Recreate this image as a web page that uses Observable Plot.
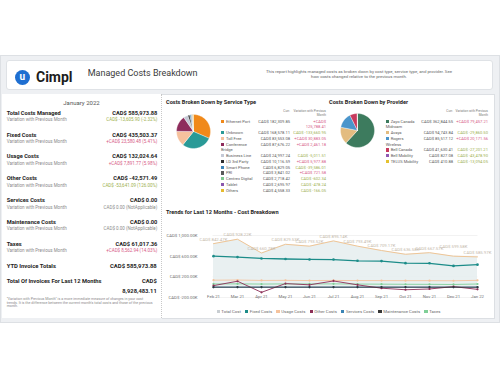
<!DOCTYPE html>
<html>
<head>
<meta charset="utf-8">
<script src="https://cdn.jsdelivr.net/npm/d3@7"></script>
<script src="https://cdn.jsdelivr.net/npm/@observablehq/plot@0.6"></script>
<style>
html,body{margin:0;padding:0}
body{width:500px;height:375px;position:relative;overflow:hidden;background:#fff;font-family:Roboto,"Noto Sans",sans-serif;color:#252423}
.a{position:absolute;white-space:nowrap}
.b{font-weight:700}
.tbl{position:absolute;display:grid;font-size:4.1px;line-height:5.75px;color:#5a5a5a;align-items:start}
.tbl div{white-space:nowrap}
.tbl .r{text-align:right}
.sw{display:inline-block;width:3.4px;height:3.4px;margin-right:1.6px;vertical-align:-0.3px}
.leg{position:absolute;display:flex;justify-content:center;gap:4.2px;font-size:4.3px;line-height:5px;color:#6a6a6a;white-space:nowrap}
.leg span.s{display:inline-block;width:3.2px;height:3.2px;margin-right:1.6px;vertical-align:-0.2px}
</style>
</head>
<body>
<script>
// ---------------- data ----------------
const reportTitle = "Managed Costs Breakdown";
const reportDescription = ["This report highlights managed costs as broken down by cost type, service type, and provider. See", "how costs changed relative to the previous month."];
const reportMonth = "January 2022";

const kpiLabels = ["Total Costs Managed", "Fixed Costs", "Usage Costs", "Other Costs", "Services Costs", "Maintenance Costs", "Taxes"];
const kpiValues = [585973.88, 435503.37, 132024.64, -42571.49, 0, 0, 61017.36];
const kpiChanges = [-13605.90, 23580.48, 7891.77, -53641.09, 0, 0, 8562.94];
const kpiChangePct = ["-2.32%", "5.41%", "5.98%", "126.00%", "NotApplicable", "NotApplicable", "14.03%"];
const ytdInvoiceTotal = 585973.88;
const last12Total = 8928483.11;
const footnote = "\"Variation with Previous Month\" is a more immediate measure of changes in your cost trends. It is the difference between the current month's total costs and those of the previous month.";

const serviceNames = ["Ethernet Port", "Unknown", "Toll Free", "Conference Bridge", "Business Line", "LD 3rd Party", "Smart Phone", "PRI", "Centrex Digital", "Tablet", "Others"];
const serviceCosts = [182309.85, 168578.11, 83553.08, 87676.22, 24997.24, 10116.59, 6829.05, 3841.02, 2718.42, 2695.97, 4558.33];
const serviceChanges = [125788.41, -133660.95, 30883.05, 2461.18, -5011.51, 5977.88, -39586.01, 721.58, -602.34, -478.24, -166.05];
const serviceColors = ["#f0891a", "#2a9a97", "#f6c19d", "#8e2c5c", "#c4c9d6", "#2e2e2e", "#3f86b8", "#5a5a5a", "#7fc990", "#8a57ae", "#e6bb2e"];

const providerNames = ["Zayo Canada Midroam", "Avaya", "Rogers Wireless", "Bell Canada", "Bell Mobility", "TELUS Mobility"];
const providerCosts = [362844.55, 94743.84, 85517.12, 41630.41, 827.08, 410.88];
const providerChanges = [79457.21, -29860.50, 20171.56, -27201.21, -43478.90, -13094.05];
const providerColors = ["#3d7b5e", "#e3bc80", "#4a95cb", "#c73a5d", "#8e58b3", "#e4c12f"];

const months = ["Feb 21", "Mar 21", "Apr 21", "May 21", "Jun 21", "Jul 21", "Aug 21", "Sep 21", "Oct 21", "Nov 21", "Dec 21", "Jan 22"];
// values in thousands of CAD$
const totalCost = [842.47, 928.22, 660.78, 829.53, 793.52, 895.14, 793.49, 709.17, 636.58, 667.57, 599.58, 585.97];
const fixedCosts = [600, 582, 556, 545, 536, 535, 510, 505, 465, 462, 411.92, 435.50];
const usageCosts = [135, 138, 130, 132, 128, 130, 128, 127, 126, 126, 124.13, 132.02];
const otherCosts = [30, 115, -100, 70, 45, 120, 45, -20, -50, -35, 11.07, -42.57];
const servicesCosts = [0, 0, 0, 0, 0, 0, 0, 0, 0, 0, 0, 0];
const maintenanceCosts = [0, 0, 0, 0, 0, 0, 0, 0, 0, 0, 0, 0];
const taxes = [62, 64, 60, 63, 62, 64, 60, 58, 56, 55, 52.45, 61.02];
const yTicks = [-200, 200, 600, 1000];

const seriesNames = ["Total Cost", "Fixed Costs", "Usage Costs", "Other Costs", "Services Costs", "Maintenance Costs", "Taxes"];
const seriesColors = ["#c9ced2", "#1c8c89", "#f5c39d", "#8c2e57", "#3a84b5", "#363636", "#80cf98"];

// ---------------- helpers ----------------
const f2 = d3.format(",.2f");
const num = v => (v < 0 ? "-" : "") + f2(Math.abs(v));
const money = v => "CAD$ " + num(v);
const change = v => (v > 0 ? "+" : "") + money(v);
const changeColor = v => v > 0 ? "#d65a86" : v < 0 ? "#9db04f" : "#8a8a8a";
const fmtK = v => "CAD$ " + num(v) + "K";

function place(html, css, cls = "a") {
  const d = document.createElement("div");
  d.className = cls;
  d.innerHTML = html;
  d.style.cssText = css;
  document.body.appendChild(d);
  return d;
}

// ---------------- frame ----------------
place("", "left:0;top:55px;width:498px;height:266px;background:#eef0f3;border:1px solid #dde0e4");
place("", "left:6px;top:60px;width:485px;height:28px;background:#fff;border:1px solid #dfe2e6;border-radius:3px");
place("", "left:2px;top:94px;width:159px;height:224px;background:#fff;border-right:1px dotted #c8c8c8");
place("", "left:162px;top:94px;width:332px;height:223px;background:#fff;border:1px solid #dcdfe3;border-left:none");

// header
place("u", "left:14.6px;top:69.6px;width:15.4px;height:15.4px;border-radius:50%;background:#1f6fd1;color:#fff;font-weight:700;font-size:10px;line-height:14px;text-align:center");
place("Cimpl", "left:36px;top:70px;font-size:14px;line-height:14px;font-weight:700;color:#1c1c1c");
place(reportTitle, "left:87.7px;top:68.8px;font-size:9px;line-height:9px;color:#3b3b3b");
place(reportDescription.join("<br>"), "left:262px;top:69.2px;width:194px;text-align:center;font-size:4.3px;line-height:5px;color:#666");

// ---------------- left KPI panel ----------------
place(reportMonth, "left:2px;top:99px;width:159px;text-align:center;font-size:6px;line-height:7px;color:#555");
kpiLabels.forEach((lab, i) => {
  const yc = 113.3 + i * 21.83;
  place(lab, `left:6.7px;top:${yc - 3.5}px;font-size:5.7px;line-height:7px`, "a b");
  place(money(kpiValues[i]), `right:342.7px;top:${yc - 3.5}px;font-size:5.7px;line-height:7px`, "a b");
  place("Variation with Previous Month", `left:6.7px;top:${yc + 4}px;font-size:4.5px;line-height:6px;color:#8a8a8a`);
  const txt = kpiChanges[i] === 0 ? `CAD$ 0.00 (${kpiChangePct[i]})` : `${change(kpiChanges[i])} (${kpiChangePct[i]})`;
  place(txt, `right:342.7px;top:${yc + 4}px;font-size:4.5px;line-height:6px;color:${changeColor(kpiChanges[i])}`);
});
place("YTD Invoice Totals", "left:6.7px;top:263px;font-size:5.9px;line-height:7.4px", "a b");
place(money(ytdInvoiceTotal), "right:343.3px;top:263px;font-size:5.9px;line-height:7.4px", "a b");
place("Total Of Invoices For Last 12 Months", "left:6.7px;top:278.3px;font-size:5.75px;line-height:7.4px", "a b");
place(money(last12Total), "right:343.3px;top:277.4px;width:50px;white-space:normal;text-align:right;font-size:5.8px;line-height:9.3px", "a b");
place(footnote, "left:6.7px;top:297.6px;width:148px;white-space:normal;font-size:3.6px;line-height:3.9px;color:#8a8a8a");

// ---------------- pies ----------------
function pieRows(names, values) {
  const arcs = d3.pie().sort(null)(values);
  const rows = [];
  arcs.forEach((a, i) => {
    const n = Math.max(2, Math.ceil((a.endAngle - a.startAngle) / 0.03));
    rows.push({k: names[i], x: 0, y: 0});
    for (let j = 0; j <= n; j++) {
      const t = a.startAngle + (a.endAngle - a.startAngle) * j / n;
      rows.push({k: names[i], x: Math.sin(t), y: Math.cos(t)});
    }
    rows.push({k: names[i], x: 0, y: 0});
  });
  return rows;
}
function pie(names, values, colors, left, top, size) {
  const svg = Plot.plot({
    width: size, height: size, margin: 0,
    x: {domain: [-1, 1], axis: null},
    y: {domain: [-1, 1], axis: null},
    color: {domain: names, range: colors},
    style: {overflow: "visible", background: "transparent"},
    marks: [Plot.line(pieRows(names, values), {x: "x", y: "y", z: "k", fill: "k", stroke: "#fff", strokeWidth: 0.35})]
  });
  const holder = place("", `left:${left}px;top:${top}px;width:${size}px;height:${size}px`);
  holder.appendChild(svg);
}
pie(serviceNames, serviceCosts, serviceColors, 176, 113.5, 34);
pie(providerNames, providerCosts, providerColors, 339.5, 112.5, 34);

const nameBreaks = {"Conference Bridge": "Conference<br>Bridge", "Zayo Canada Midroam": "Zayo Canada<br>Midroam", "Rogers Wireless": "Rogers<br>Wireless"};
const changeBreaks = new Set(["Ethernet Port"]);

function table(names, values, changes, colors, left, cols) {
  const g = place("", `left:${left}px;top:118.6px;grid-template-columns:${cols}`, "tbl");
  names.forEach((n, i) => {
    const c1 = document.createElement("div");
    c1.innerHTML = `<span class="sw" style="background:${colors[i]}"></span>` + (nameBreaks[n] || n);
    const c2 = document.createElement("div");
    c2.className = "r"; c2.textContent = money(values[i]);
    const c3 = document.createElement("div");
    c3.className = "r"; c3.style.color = changeColor(changes[i]);
    const t = change(changes[i]);
    c3.innerHTML = changeBreaks.has(n) ? t.replace(" ", "<br>") : t;
    g.append(c1, c2, c3);
  });
}
table(serviceNames, serviceCosts, serviceChanges, serviceColors, 221, "33px 36px 36px");
table(providerNames, providerCosts, providerChanges, providerColors, 385.7, "34px 33.3px 35px");

function tableHeader(valRight, varRight) {
  place("Curr.", `right:${500 - valRight}px;top:108.6px;font-size:3.2px;line-height:4.5px;color:#777`);
  place("Variation with Previous<br>Month", `right:${500 - varRight}px;top:108.6px;font-size:3.2px;line-height:4.5px;color:#777;text-align:right`);
}
tableHeader(290, 326);
tableHeader(453, 488);

place("Costs Broken Down by Service Type", "left:166px;top:98.8px;font-size:5.6px;line-height:7px", "a b");
place("Costs Broken Down by Provider", "left:329px;top:98.8px;font-size:5.6px;line-height:7px", "a b");
place("Trends for Last 12 Months - Cost Breakdown", "left:166px;top:208.8px;font-size:5.6px;line-height:7px", "a b");

// ---------------- trend chart ----------------
const totalRows = months.map((m, i) => ({month: m, value: totalCost[i]}));
const lowLabel = "Dec 21"; // label lifted to keep it clear of its neighbour
const lineSeries = [
  ["Usage Costs", usageCosts],
  ["Taxes", taxes],
  ["Services Costs", servicesCosts],
  ["Other Costs", otherCosts],
  ["Maintenance Costs", maintenanceCosts]
];
const lineRows = lineSeries.flatMap(([s, vals]) => months.map((m, i) => ({month: m, series: s, value: vals[i]})));
const fixedRows = months.map((m, i) => ({month: m, series: "Fixed Costs", value: fixedCosts[i]}));

const trend = Plot.plot({
  width: 333, height: 88,
  marginLeft: 50.5, marginRight: 17.5, marginTop: 17, marginBottom: 9,
  style: {fontFamily: "Roboto, sans-serif", fontSize: "4.3px", color: "#6f6f6f", overflow: "visible", background: "transparent"},
  x: {type: "point", domain: months, padding: 0},
  y: {domain: [-200, 1000]},
  color: {domain: seriesNames, range: seriesColors},
  marks: [
    Plot.gridY(yTicks, {stroke: "#e4e4e4", strokeOpacity: 1, strokeWidth: 0.5}),
    Plot.axisY(yTicks, {tickSize: 0, tickPadding: 15.5, tickFormat: fmtK, label: null}),
    Plot.axisX({tickSize: 0, tickPadding: 0, dy: -2.2, label: null}),
    Plot.areaY(totalRows, {x: "month", y: "value", fill: "#e7eef0", fillOpacity: 0.9}),
    Plot.lineY(totalRows, {x: "month", y: "value", stroke: "#efc596", strokeWidth: 1}),
    Plot.text(totalRows.filter(d => d.month !== lowLabel), {x: "month", y: "value", text: d => fmtK(d.value), dy: -4.5, fill: "#c4b7aa", fontSize: 4.3}),
    Plot.text(totalRows.filter(d => d.month === lowLabel), {x: "month", y: "value", text: d => fmtK(d.value), dy: -9.5, fill: "#c4b7aa", fontSize: 4.3}),
    Plot.lineY(lineRows, {x: "month", y: "value", z: "series", stroke: "series", strokeWidth: 0.9}),
    Plot.dot(lineRows, {x: "month", y: "value", fill: "series", r: 1.1}),
    Plot.lineY(fixedRows, {x: "month", y: "value", stroke: "series", strokeWidth: 1.3}),
    Plot.dot(fixedRows, {x: "month", y: "value", fill: "series", r: 1.3})
  ]
});
const th = place("", "left:162px;top:218px;width:333px;height:88px");
th.appendChild(trend);

// legend
const leg = place("", "left:162px;top:308.5px;width:333px", "leg");
seriesNames.forEach((s, i) => {
  const it = document.createElement("div");
  it.innerHTML = `<span class="s" style="background:${seriesColors[i]}"></span>${s}`;
  leg.appendChild(it);
});
</script>
</body>
</html>
